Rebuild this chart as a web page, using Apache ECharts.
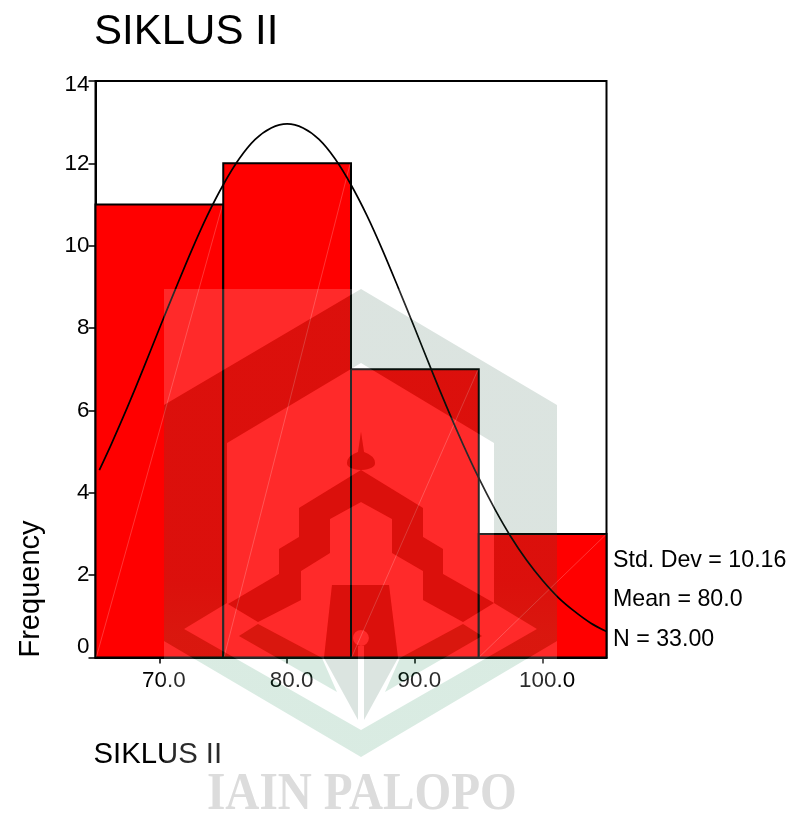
<!DOCTYPE html>
<html>
<head>
<meta charset="utf-8">
<title>SIKLUS II</title>
<script src="https://cdn.jsdelivr.net/npm/echarts@6/dist/echarts.min.js"></script>
<style>
html,body{margin:0;padding:0;background:#fff}
#main{width:793px;height:816px}
</style>
</head>
<body>
<div id="main"></div>
<script>
// histogram bins
var binStart = [65, 75, 85, 95];
var binEnd = [75, 85, 95, 105];
var binCount = [11, 12, 7, 3];

// normal curve
var curveX = [65.3, 66.25, 67.5, 68.75, 70, 71.25, 72.5, 73.75, 75, 76.25, 77.5, 78.75, 80, 81.25, 82.5, 83.75, 85, 86.25, 87.5, 88.75, 90, 91.25, 92.5, 93.75, 95, 96.25, 97.5, 98.75, 100, 101.25, 102.5, 103.75, 105];
var curveY = [4.55, 5.19, 6.08, 7.02, 7.99, 8.94, 9.87, 10.73, 11.48, 12.11, 12.58, 12.86, 12.96, 12.86, 12.58, 12.11, 11.48, 10.73, 9.87, 8.94, 7.99, 7.02, 6.08, 5.19, 4.36, 3.61, 2.94, 2.36, 1.87, 1.45, 1.12, 0.84, 0.63];

var xTicks = [70, 80, 90, 100];
var statLines = ['Std. Dev = 10.16', 'Mean = 80.0', 'N = 33.00'];

var FONT = '"Liberation Sans", Arial, sans-serif';

// logo watermark outlines (page pixels)
var wmRect = 'M164 289L557 289L557 816L164 816Z';
var bandOuter = 'M361 289L164 405L164 641L361 757L557 641L557 405Z';
var bandInner = 'M361 363L494 443L494 603L537 629L361 730L184 629L227 603L227 443Z';
var roof = 'M361 470L299 508L299 537L279 549L279 574L228 604L258 622L301 600L301 571L330 553L330 519L361 502L392 519L392 553L423 571L423 600L463 622L494 603L443 574L443 549L423 537L423 508Z';
var tower = 'M361 432L358 452Q347 456 347 463Q347 469 361 470Q375 469 375 463Q375 456 364 452Z';
var penBody = 'M332 585L324 658L358 720L358 646L364 646L364 720L398 658L389 585Z';
var penHole = 'M361 630A8 8 0 1 1 360.9 630Z';
var chevronL = 'M258 624L239 636L337 692L322 658Z';
var chevronR = 'M463 624L400 658L385 692L482 636Z';

var GREY = 'rgba(44,94,70,0.17)';
var GREEN = 'rgba(32,138,85,0.17)';

function renderBin(params, api) {
  var lb = api.coord([api.value(0), 0]);
  var rt = api.coord([api.value(1), api.value(2)]);
  return {
    type: 'group',
    children: [
      {
        type: 'rect',
        shape: { x: lb[0], y: rt[1], width: rt[0] - lb[0], height: lb[1] - rt[1] },
        style: { fill: '#ff0000', stroke: '#000', lineWidth: 2 }
      },
      {
        type: 'line',
        shape: { x1: lb[0] + 1, y1: lb[1] - 1, x2: rt[0] - 1, y2: rt[1] + 1 },
        style: { stroke: 'rgba(255,255,255,0.35)', lineWidth: 0.6 }
      }
    ]
  };
}

function renderWatermark() {
  return {
    type: 'group',
    children: [
      {
        type: 'path',
        shape: { pathData: wmRect + bandOuter + bandInner + roof + tower + penBody + penHole + chevronL + chevronR },
        style: { fill: 'rgba(255,255,255,0.165)' }
      },
      {
        type: 'path',
        shape: { pathData: bandOuter + bandInner },
        style: {
          fill: {
            type: 'linear', x: 0, y: 0, x2: 0, y2: 1,
            colorStops: [
              { offset: 0, color: GREY },
              { offset: 0.62, color: GREY },
              { offset: 0.74, color: GREEN },
              { offset: 1, color: GREEN }
            ]
          }
        }
      },
      { type: 'path', shape: { pathData: roof + tower + penBody + penHole }, style: { fill: GREY } },
      { type: 'path', shape: { pathData: chevronL + chevronR }, style: { fill: GREEN } }
    ]
  };
}

var binData = binStart.map(function (s, i) { return [s, binEnd[i], binCount[i]]; });
var curveData = curveX.map(function (x, i) { return [x, curveY[i]]; });

var statText = statLines.map(function (t, i) {
  return {
    type: 'text',
    left: 613,
    top: 549 + i * 39.5,
    style: { text: t, font: '23.2px ' + FONT, fill: '#000' }
  };
});

var myChart = echarts.init(document.getElementById('main'), null, { renderer: 'canvas' });
myChart.setOption({
  animation: false,
  backgroundColor: '#fff',
  title: {
    text: 'SIKLUS II',
    left: 94,
    top: 11,
    padding: 0,
    textStyle: { fontFamily: FONT, fontSize: 42, fontWeight: 'normal', color: '#000' }
  },
  grid: {
    left: 95.5,
    top: 81,
    width: 511,
    height: 576.5,
    show: true,
    borderColor: '#000',
    borderWidth: 2,
    backgroundColor: 'transparent'
  },
  xAxis: {
    type: 'value',
    min: 65,
    max: 105,
    name: 'SIKLUS II',
    nameLocation: 'start',
    nameGap: 2,
    nameTextStyle: {
      fontFamily: FONT, fontSize: 29.3, color: '#000',
      align: 'left', verticalAlign: 'top', padding: [83, 0, 0, 0]
    },
    splitLine: { show: false },
    axisLine: { show: true, lineStyle: { color: '#000', width: 2 } },
    axisTick: { show: true, customValues: xTicks, length: 6, lineStyle: { color: '#000', width: 1.5 } },
    axisLabel: {
      customValues: xTicks,
      margin: 12,
      padding: [0, 0, 0, 9],
      fontFamily: FONT,
      fontSize: 22.4,
      color: '#000',
      formatter: function (v) { return v.toFixed(1); }
    }
  },
  yAxis: {
    type: 'value',
    min: 0,
    max: 14,
    interval: 2,
    name: 'Frequency',
    nameLocation: 'start',
    nameGap: 0,
    nameRotate: 90,
    nameTextStyle: {
      fontFamily: FONT, fontSize: 29, color: '#000',
      align: 'left', verticalAlign: 'bottom', padding: [0, 0, 50, 0]
    },
    splitLine: { show: false },
    axisLine: { show: true, lineStyle: { color: '#000', width: 2 } },
    axisTick: { show: true, length: 7, lineStyle: { color: '#000', width: 1.5 } },
    axisLabel: {
      margin: 6,
      fontFamily: FONT,
      fontSize: 22.4,
      color: '#000',
      verticalAlignMinLabel: 'bottom',
      // the top label sits a little under its tick
      formatter: function (v) { return v === 14 ? '{top|14}' : String(v); },
      rich: { top: { fontFamily: FONT, fontSize: 22.4, color: '#000', padding: [7, 0, 0, 0] } }
    }
  },
  graphic: {
    elements: statText.concat([
      {
        type: 'text',
        x: 207,
        y: 769,
        scaleX: 0.89,
        z: 20,
        style: {
          text: 'IAIN PALOPO',
          font: 'bold 53px "Liberation Serif", serif',
          fill: '#dcdcdc'
        }
      }
    ])
  },
  series: [
    {
      name: 'Frequency',
      type: 'custom',
      renderItem: renderBin,
      encode: { x: [0, 1], y: 2 },
      data: binData,
      z: 2,
      silent: true
    },
    {
      name: 'Normal',
      type: 'line',
      data: curveData,
      smooth: 0.3,
      showSymbol: false,
      lineStyle: { color: '#000', width: 1.7 },
      z: 4,
      silent: true
    },
    {
      name: 'watermark',
      type: 'custom',
      coordinateSystem: 'none',
      renderItem: renderWatermark,
      data: [0],
      z: 10,
      silent: true
    }
  ]
});
</script>
</body>
</html>
